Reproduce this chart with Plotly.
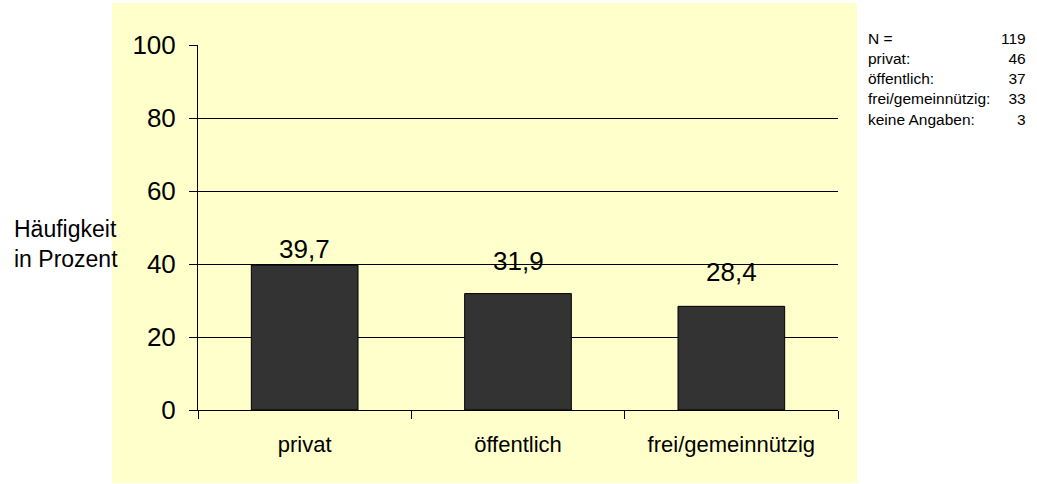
import plotly.graph_objects as go

categories = ["privat", "öffentlich", "frei/gemeinnützig"]
values = [39.7, 31.9, 28.4]
value_labels = ["39,7", "31,9", "28,4"]
label_offsets = [4.4, 8.9, 9.4]
y_ticks = [0, 20, 40, 60, 80, 100]
axis_title_lines = ["Häufigkeit", "in Prozent"]
note_labels = ["N =", "privat:", "öffentlich:", "frei/gemeinnützig:", "keine Angaben:"]
note_values = ["119", "46", "37", "33", "3"]

W, H = 1037, 484
L, R, T, B = 198, 199, 45, 74
PW, PH = W - L - R, H - T - B
FONT = "Arial, Liberation Sans, sans-serif"


def px_x(x):
    return (x - L) / PW


def px_y(y):
    return (H - B - y) / PH


fig = go.Figure()
fig.add_trace(go.Bar(
    x=categories, y=values, width=0.5,
    marker=dict(color="#333333", line=dict(color="#000000", width=1)),
    hoverinfo="skip",
))

for c, v, t, o in zip(categories, values, value_labels, label_offsets):
    fig.add_annotation(x=c, y=v + o, text=t, showarrow=False,
                       font=dict(family=FONT, size=26, color="#000000"),
                       xref="x", yref="y", yanchor="middle")

fig.add_shape(type="rect", xref="paper", yref="paper",
              x0=px_x(112), x1=px_x(857), y0=px_y(483), y1=px_y(3),
              fillcolor="#FFFFCC", line=dict(width=0), layer="below")

fig.add_annotation(xref="paper", yref="paper", x=px_x(12), y=px_y(244),
                   xanchor="left", yanchor="middle", align="left", showarrow=False,
                   text="<br>".join(axis_title_lines),
                   font=dict(family=FONT, size=23, color="#000000"))

fig.add_annotation(xref="paper", yref="paper", x=px_x(866), y=px_y(28),
                   xanchor="left", yanchor="top", align="left", showarrow=False,
                   text="<br>".join(note_labels),
                   font=dict(family=FONT, size=15.5, color="#000000"))
fig.add_annotation(xref="paper", yref="paper", x=px_x(1028), y=px_y(28),
                   xanchor="right", yanchor="top", align="right", showarrow=False,
                   text="<br>".join(note_values),
                   font=dict(family=FONT, size=15.5, color="#000000"))

fig.update_layout(
    width=W, height=H,
    margin=dict(l=L, r=R, t=T, b=B, pad=0),
    paper_bgcolor="#FFFFFF", plot_bgcolor="rgba(0,0,0,0)",
    showlegend=False, bargap=0.5,
    font=dict(family=FONT, color="#000000"),
)
fig.update_yaxes(range=[0, 100], tickvals=y_ticks, ticktext=[str(v) for v in y_ticks],
                 showgrid=True, gridcolor="#000000", gridwidth=1,
                 showline=True, linecolor="#000000", linewidth=1,
                 ticks="outside", ticklen=8, tickcolor="#000000",
                 tickfont=dict(family=FONT, size=26), zeroline=False,
                 ticklabelstandoff=8)
fig.update_xaxes(showline=True, linecolor="#000000", linewidth=1,
                 ticks="outside", ticklen=8, tickcolor="#000000",
                 tickson="boundaries", showgrid=False,
                 tickfont=dict(family=FONT, size=22), mirror=False,
                 ticklabelstandoff=15)

fig.write_html("out.html", config={"displayModeBar": False},
               post_script="document.body.style.margin='0';")
